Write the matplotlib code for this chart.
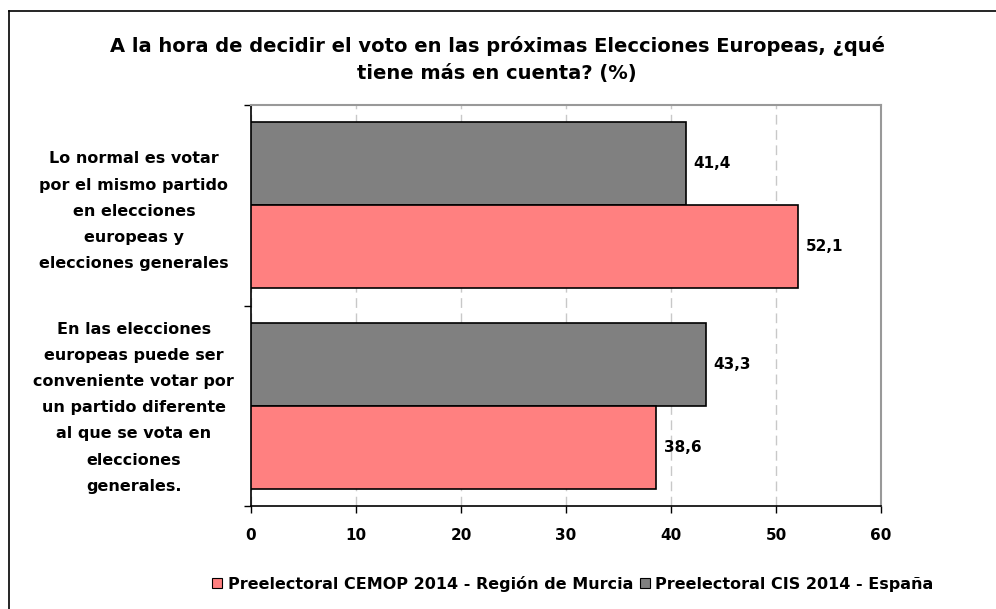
import matplotlib
matplotlib.use("Agg")
import matplotlib.pyplot as plt
from matplotlib.lines import Line2D
from matplotlib.patches import Patch

plt.rcParams['font.family'] = ['DejaVu Sans']

categories = [
    "Lo normal es votar\npor el mismo partido\nen elecciones\neuropeas y\nelecciones generales",
    "En las elecciones\neuropeas puede ser\nconveniente votar por\nun partido diferente\nal que se vota en\nelecciones\ngenerales.",
]
series_names = ["Preelectoral CEMOP 2014 - Región de Murcia", "Preelectoral CIS 2014 - España"]
cemop = [52.1, 38.6]
cis = [41.4, 43.3]
xticks = [0, 10, 20, 30, 40, 50, 60]
title = "A la hora de decidir el voto en las próximas Elecciones Europeas, ¿qué\ntiene más en cuenta? (%)"

c_cemop = "#FF8080"
c_cis = "#808080"

fig = plt.figure(figsize=(9.96, 6.09), dpi=100)
ax = fig.add_axes([251/996, 1-506/609, 630/996, 401/609])

h = 0.415
pos = [0.5 + i for i in range(len(categories))]
b_cis = ax.barh([p - h/2 for p in pos], cis, height=h, color=c_cis, edgecolor="black", linewidth=1.2, zorder=3)
b_cem = ax.barh([p + h/2 for p in pos], cemop, height=h, color=c_cemop, edgecolor="black", linewidth=1.2, zorder=3)

for bars, vals in ((b_cis, cis), (b_cem, cemop)):
    for rect, v in zip(bars, vals):
        ax.annotate(f"{v:.1f}".replace(".", ","), (v, rect.get_y() + rect.get_height()/2),
                    xytext=(5.5, 0), textcoords="offset points", ha="left", va="center",
                    fontsize=11, fontweight="bold", zorder=4)

ax.set_xlim(0, 60)
ax.set_ylim(2, 0)
ax.set_xticks(xticks)
ax.set_xticklabels([str(t) for t in xticks], fontsize=11, fontweight="bold")
ax.set_yticks([0, 1, 2])
ax.set_yticklabels([])
ax.tick_params(axis="both", direction="out", length=5, width=1, color="black")
ax.tick_params(axis="x", pad=11)
ax.xaxis.grid(True, color="#c8c8c8", linestyle=(0, (7, 4)), linewidth=1, zorder=0)
ax.set_axisbelow(True)
for s in ("top", "right"):
    ax.spines[s].set_color("#999999")
    ax.spines[s].set_linewidth(1.5)
for s in ("left", "bottom"):
    ax.spines[s].set_color("black")
    ax.spines[s].set_linewidth(1.2)

label_y = [0.53, 1.51]
for y, lab in zip(label_y, categories):
    ax.text(-0.186, y, lab, transform=ax.get_yaxis_transform(), ha="center", va="center",
            fontsize=11.5, fontweight="bold", linespacing=1.93)

fig.text(0.499, 1-59.5/609, title, ha="center", va="center", fontsize=14,
         fontweight="bold", linespacing=1.5)

handles = [Patch(facecolor=c_cemop, edgecolor="black", linewidth=0.8),
           Patch(facecolor=c_cis, edgecolor="black", linewidth=0.8)]
fig.legend(handles, series_names, loc="center", bbox_to_anchor=(573/996, 1-584/609),
           ncol=2, frameon=False, prop={"weight": "bold", "size": 11.5},
           handlelength=0.6, handleheight=0.6, handletextpad=0.35, columnspacing=0.45)

fig.add_artist(Line2D([9/996, 9/996], [0, 1-11/609], transform=fig.transFigure,
                      color="black", linewidth=1.2))
fig.add_artist(Line2D([9/996, 1], [1-11/609, 1-11/609], transform=fig.transFigure,
                      color="black", linewidth=1.2))

fig.savefig("out.png", dpi=100)
